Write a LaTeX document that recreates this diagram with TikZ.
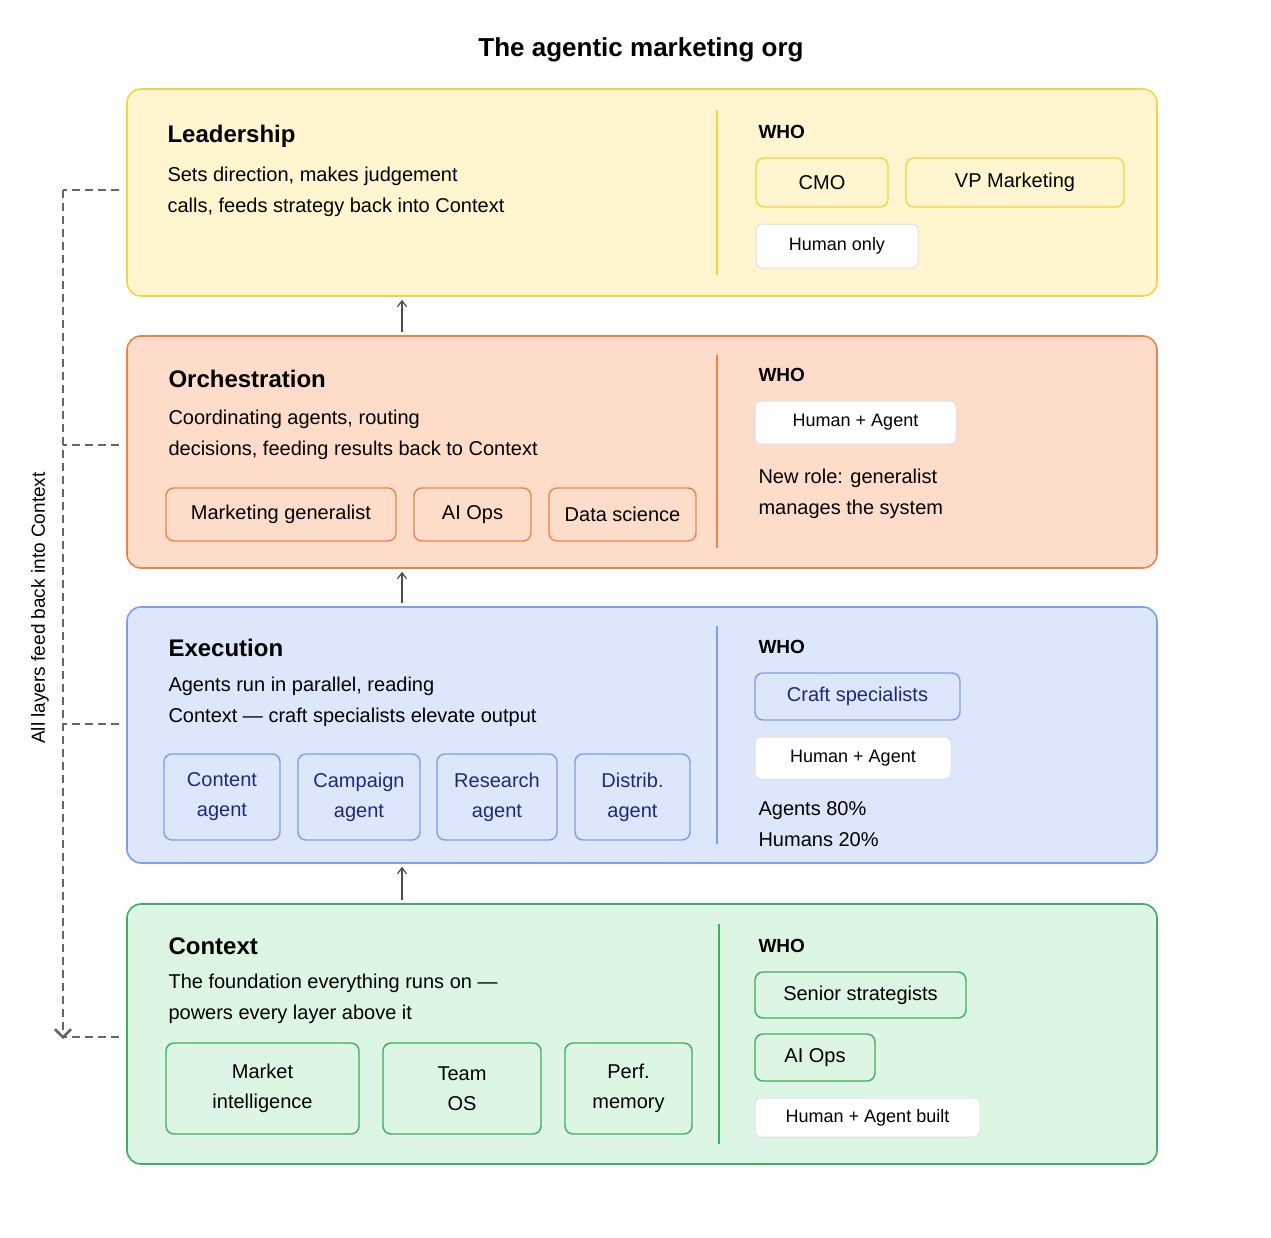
\documentclass[tikz,border=0pt]{standalone}
\usepackage{fontspec}
\setmainfont{Liberation Sans}
\usetikzlibrary{positioning, arrows.meta}

\definecolor{leadfill}{HTML}{FFF6CF}
\definecolor{leaddraw}{HTML}{F3D53F}
\definecolor{orchfill}{HTML}{FDDDCA}
\definecolor{orchdraw}{HTML}{EF8248}
\definecolor{execfill}{HTML}{DDE7FB}
\definecolor{execdraw}{HTML}{7D9EEE}
\definecolor{ctxfill}{HTML}{DDF5E3}
\definecolor{ctxdraw}{HTML}{3FAE5E}
\definecolor{navy}{HTML}{1E2A78}

\tikzset{
  layer/.style={draw=#1draw, fill=#1fill, line width=1.6pt, rounded corners=14pt,
    minimum width=1030pt, inner sep=0pt},
  chip/.style={draw=#1draw, fill=#1fill, line width=1.4pt, rounded corners=8pt,
    inner sep=0pt, align=center, font=\fontsize{20}{30}\selectfont},
  white chip/.style={draw=black!12, fill=white, line width=1pt, rounded corners=6pt,
    inner sep=0pt, font=\fontsize{18}{22}\selectfont},
  heading/.style={anchor=west, font=\fontsize{24}{28}\selectfont\bfseries},
  desc/.style={anchor=west, align=left, font=\fontsize{20}{31}\selectfont},
  who/.style={anchor=west, font=\fontsize{19}{22}\selectfont\bfseries},
  divider/.style={draw=#1draw, line width=1.2pt},
  up/.style={-{Straight Barb[length=6pt,width=9pt]}, line width=1.2pt, draw=black!70,
    shorten <=3pt, shorten >=3pt},
  feedback/.style={draw=black!60, line width=2.5pt, dash pattern=on 8pt off 5pt}
}

\begin{document}
\begin{tikzpicture}[x=1pt, y=-1pt]
	\useasboundingbox (0,0) rectangle (1271,1237);
	\node[font=\fontsize{26}{30}\selectfont\bfseries] (title) at (641,50) {The agentic marketing org};

	% layers
	\node[layer=lead, minimum height=207pt] (lead) at (642,192.5) {};
	\node[layer=orch, minimum height=232pt] (orch) at (642,452) {};
	\node[layer=exec, minimum height=256pt] (exec) at (642,735) {};
	\node[layer=ctx, minimum height=260pt] (ctx) at (642,1034) {};

	% leadership
	\node[heading] (leadh) at (164,136) {Leadership};
	\node[desc] (leadd) at (164,191.5) {Sets direction, makes judgement\\calls, feeds strategy back into Context};
	\draw[divider=lead] (717,110) -- (717,275);
	\node[who] (leadw) at (755,132) {WHO};
	\node[chip=lead, minimum width=132pt, minimum height=49pt] (cmo) at (822,182.5) {CMO};
	\node[chip=lead, minimum width=218pt, minimum height=49pt] (vp) at (1015,182.5) {VP Marketing};
	\node[white chip, minimum width=162pt, minimum height=44pt] (human) at (837,246) {Human only};

	% orchestration
	\node[heading] (orchh) at (165,379) {Orchestration};
	\node[desc] (orchd) at (165,434.5) {Coordinating agents, routing\\decisions, feeding results back to Context};
	\draw[divider=orch] (717,355) -- (717,548);
	\node[who] (orchw) at (755,375) {WHO};
	\node[chip=orch, minimum width=230pt, minimum height=53pt] (mg) at (281,514.5) {Marketing generalist};
	\node[chip=orch, minimum width=117pt, minimum height=53pt] (aiops) at (472.5,514.5) {AI Ops};
	\node[chip=orch, minimum width=147pt, minimum height=53pt] (ds) at (622.5,514.5) {Data science};
	\node[white chip, minimum width=201pt, minimum height=43pt] (orchha) at (855.5,422.5) {Human + Agent};
	\node[desc] (orchn) at (755,494) {New role: generalist\\manages the system};

	% execution
	\node[heading] (exech) at (165,648) {Execution};
	\node[desc] (execd) at (165,701.5) {Agents run in parallel, reading\\Context — craft specialists elevate output};
	\draw[divider=exec] (717,626) -- (717,844);
	\node[who] (execw) at (755,647) {WHO};
	\node[chip=exec, text=navy, minimum width=116pt, minimum height=86pt] (content) at (222,797) {Content\\agent};
	\node[chip=exec, text=navy, minimum width=122pt, minimum height=86pt] (campaign) at (359,797) {Campaign\\agent};
	\node[chip=exec, text=navy, minimum width=120pt, minimum height=86pt] (research) at (497,797) {Research\\agent};
	\node[chip=exec, text=navy, minimum width=115pt, minimum height=86pt] (distrib) at (632.5,797) {Distrib.\\agent};
	\node[chip=exec, text=navy, minimum width=205pt, minimum height=47pt] (craft) at (857.5,696.5) {Craft specialists};
	\node[white chip, minimum width=196pt, minimum height=42pt] (execha) at (853,758) {Human + Agent};
	\node[desc] (execn) at (755,824.5) {Agents 80\%\\Humans 20\%};

	% context
	\node[heading] (ctxh) at (165,946) {Context};
	\node[desc] (ctxd) at (165,999) {The foundation everything runs on —\\powers every layer above it};
	\draw[divider=ctx] (719,924) -- (719,1144);
	\node[who] (ctxw) at (755,946) {WHO};
	\node[chip=ctx, minimum width=193pt, minimum height=91pt] (market) at (262.5,1088.5) {Market\\intelligence};
	\node[chip=ctx, minimum width=158pt, minimum height=91pt] (team) at (462,1088.5) {Team\\OS};
	\node[chip=ctx, minimum width=127pt, minimum height=91pt] (perf) at (628.5,1088.5) {Perf.\\memory};
	\node[chip=ctx, minimum width=211pt, minimum height=46pt] (senior) at (860.5,995) {Senior strategists};
	\node[chip=ctx, minimum width=120pt, minimum height=47pt] (ctxai) at (815,1057.5) {AI Ops};
	\node[white chip, minimum width=225pt, minimum height=39pt] (ctxha) at (867.5,1117.5) {Human + Agent built};

	% flow upward
	\draw[up] (ctx.north -| 402,0) -- (exec.south -| 402,0);
	\draw[up] (exec.north -| 402,0) -- (orch.south -| 402,0);
	\draw[up] (orch.north -| 402,0) -- (lead.south -| 402,0);

	% feedback into context
	\coordinate (fbtop) at (63,190);
	\coordinate (fbbot) at (63,1037);
	\draw[feedback] ([xshift=-7pt]lead.west |- fbtop) -- (fbtop);
	\draw[feedback] ([xshift=-7pt]orch.west |- 0,445) -- (63,445);
	\draw[feedback] ([xshift=-7pt]exec.west |- 0,724) -- (63,724);
	\draw[feedback] ([xshift=-7pt]ctx.west |- fbbot) -- (fbbot);
	\draw[feedback, -{Straight Barb[length=8pt,width=16pt]}] (fbtop) -- ([yshift=-2pt]fbbot);
	\node[rotate=90, font=\fontsize{19}{22}\selectfont] (fblabel) at (40,608) {All layers feed back into Context};
\end{tikzpicture}
\end{document}
